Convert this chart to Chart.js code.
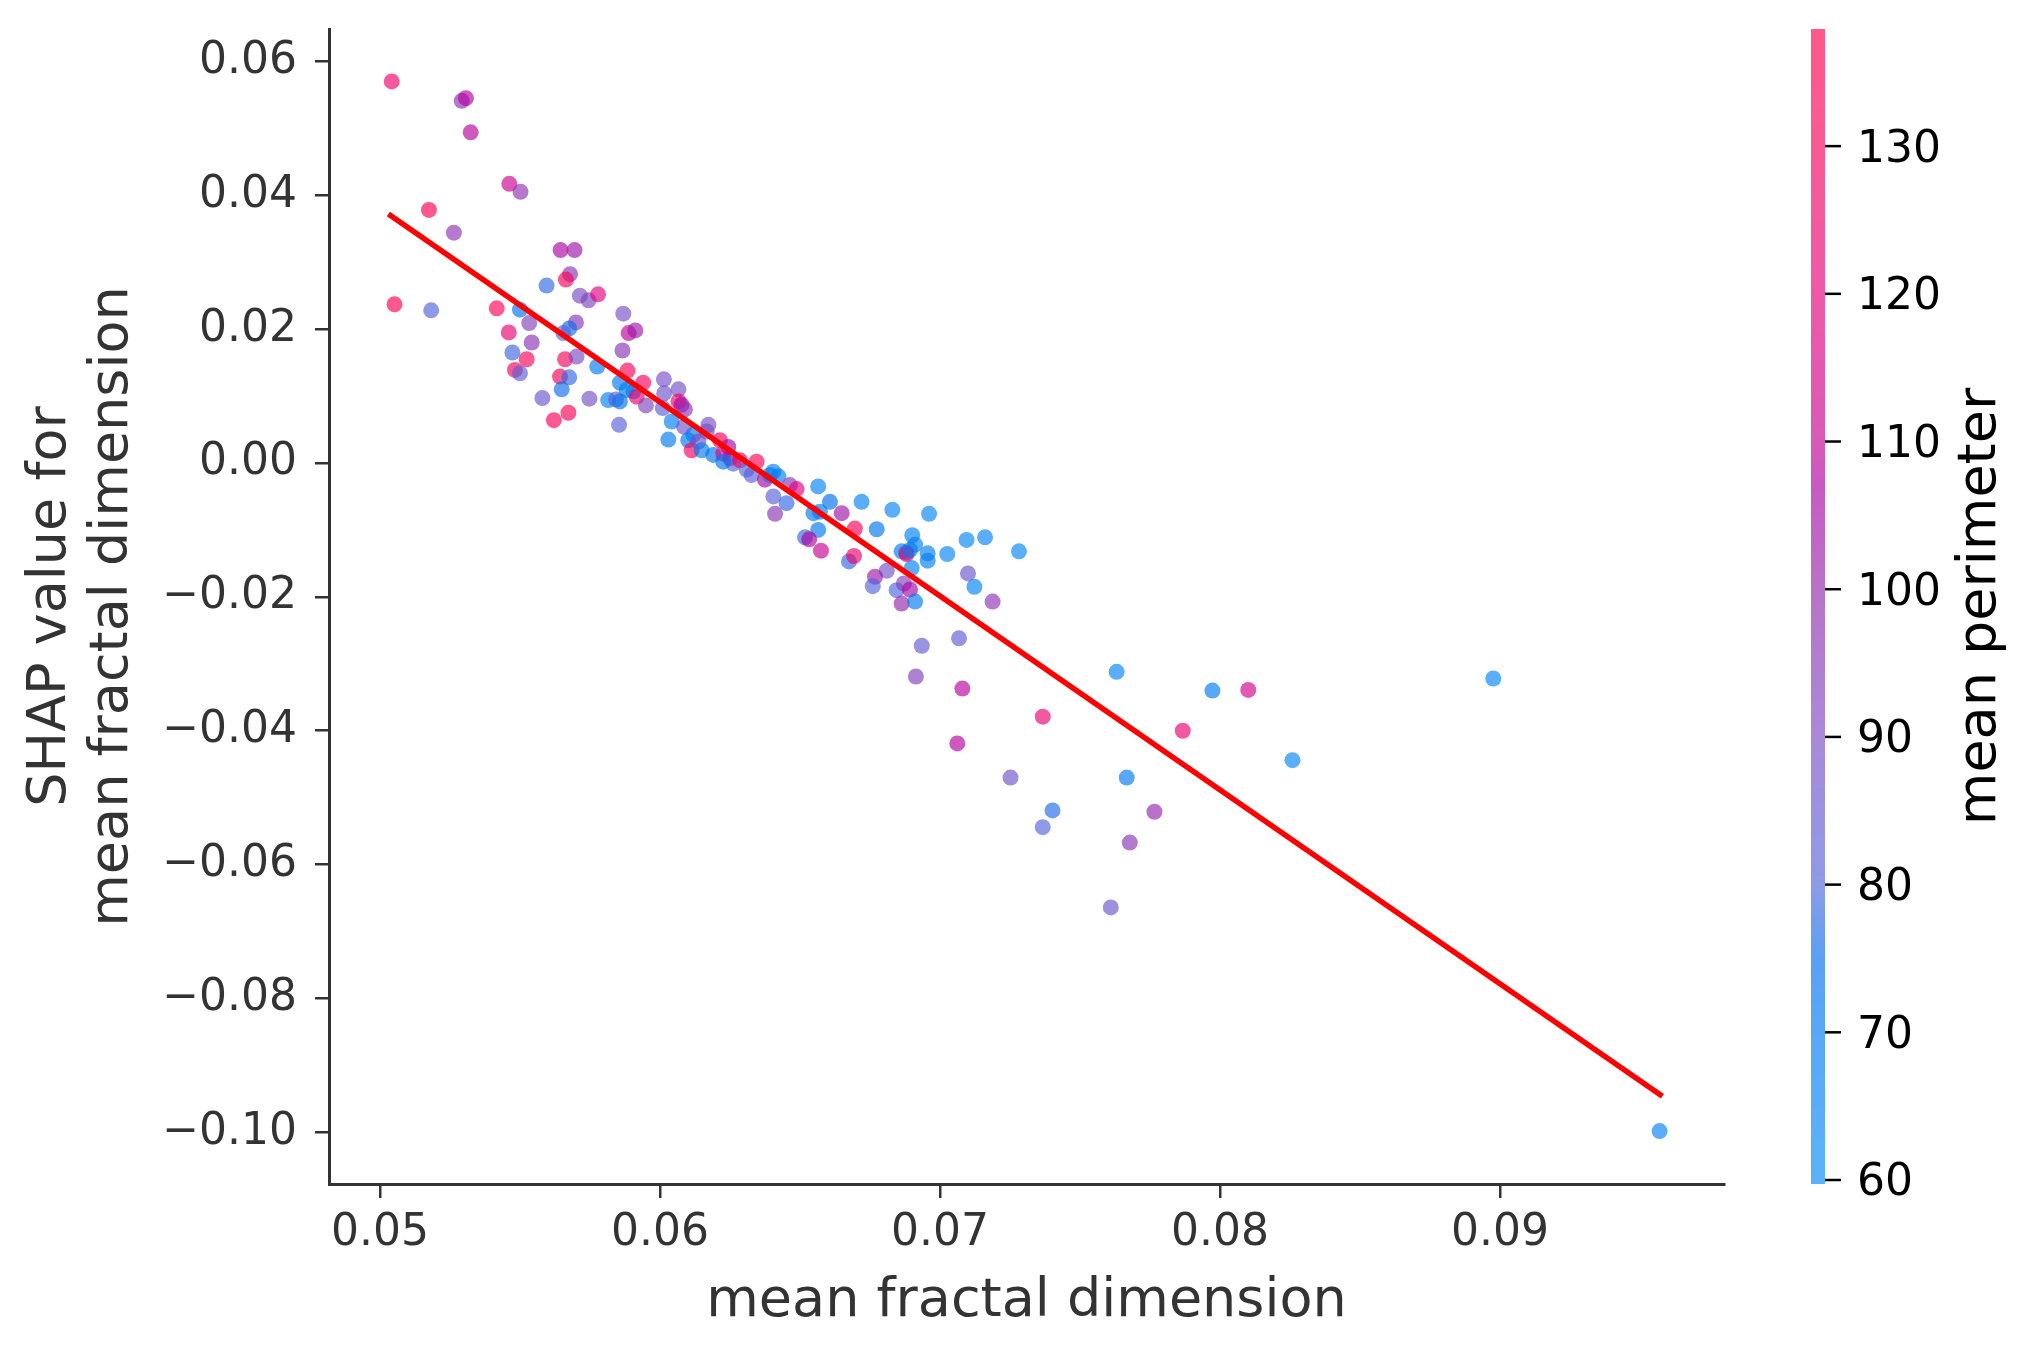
<!DOCTYPE html>
<html>
<head>
<meta charset="utf-8">
<script src="https://cdn.jsdelivr.net/npm/chart.js@4.4.1/dist/chart.umd.min.js"></script>
<style>
  html, body { margin: 0; padding: 0; background: #fff; }
  canvas { display: block; }
</style>
</head>
<body>
<canvas id="shapChart" width="2040" height="1357"></canvas>
<script>
// data
const FRACTAL_DIM = [
  0.05042, 0.05292, 0.05307, 0.05324, 0.05462, 0.05502, 0.05175, 0.05264, 0.05645, 0.05695,
  0.05679, 0.05664, 0.05595, 0.05714, 0.05745, 0.05779, 0.05052, 0.05183, 0.05417, 0.05500,
  0.05869, 0.05533, 0.05700, 0.05676, 0.05655, 0.05888, 0.05912, 0.05460, 0.05542, 0.05473,
  0.05524, 0.05482, 0.05500, 0.05661, 0.05702, 0.05866, 0.05643, 0.05676, 0.05649, 0.05776,
  0.05884, 0.05940, 0.05857, 0.05881, 0.05905, 0.05917, 0.05950, 0.05815, 0.05843, 0.05857,
  0.05580, 0.05748, 0.05621, 0.05673, 0.05854, 0.06014, 0.06066, 0.06015, 0.06010, 0.06066,
  0.06077, 0.06089, 0.06042, 0.06030, 0.06086, 0.06101, 0.06119, 0.06113, 0.06137, 0.06173,
  0.06167, 0.06149, 0.06190, 0.06214, 0.06244, 0.06226, 0.06250, 0.06262, 0.06226, 0.06286,
  0.06310, 0.06345, 0.06327, 0.06375, 0.06405, 0.06423, 0.06393, 0.06464, 0.06488, 0.06405,
  0.06452, 0.06411, 0.06565, 0.06548, 0.06571, 0.06607, 0.06649, 0.06720, 0.06696, 0.06774,
  0.06565, 0.06518, 0.06533, 0.06575, 0.06675, 0.06693, 0.06830, 0.06961, 0.06901, 0.06911,
  0.06863, 0.06879, 0.06881, 0.06893, 0.06956, 0.06956, 0.06899, 0.07026, 0.07095, 0.07161,
  0.07282, 0.07100, 0.07123, 0.07188, 0.06810, 0.06768, 0.06760, 0.06845, 0.06871, 0.06893,
  0.06863, 0.06911, 0.06935, 0.07068, 0.06914, 0.07080, 0.07367, 0.07631, 0.07973, 0.08101,
  0.07867, 0.07062, 0.08259, 0.07252, 0.07667, 0.07402, 0.07367, 0.07766, 0.07678, 0.07610,
  0.08976, 0.09570
];
const SHAP_VALUE = [
  0.0570, 0.0541, 0.0545, 0.0494, 0.0417, 0.0405, 0.0378, 0.0344, 0.0318, 0.0318,
  0.0282, 0.0274, 0.0265, 0.0250, 0.0243, 0.0252, 0.0237, 0.0228, 0.0231, 0.0229,
  0.0223, 0.0209, 0.0210, 0.0201, 0.0194, 0.0194, 0.0198, 0.0195, 0.0180, 0.0165,
  0.0155, 0.0139, 0.0134, 0.0155, 0.0159, 0.0168, 0.0129, 0.0128, 0.0110, 0.0144,
  0.0138, 0.0120, 0.0120, 0.0109, 0.0107, 0.0099, 0.0086, 0.0094, 0.0095, 0.0092,
  0.0097, 0.0096, 0.0064, 0.0075, 0.0057, 0.0125, 0.0110, 0.0104, 0.0082, 0.0092,
  0.0087, 0.0080, 0.0062, 0.0035, 0.0054, 0.0034, 0.0042, 0.0019, 0.0032, 0.0057,
  0.0047, 0.0019, 0.0012, 0.0034, 0.0024, 0.0014, 0.0007, -0.0001, 0.0002, 0.0004,
  -0.0010, 0.0002, -0.0018, -0.0025, -0.0013, -0.0020, -0.0018, -0.0033, -0.0039, -0.0050,
  -0.0060, -0.0076, -0.0035, -0.0075, -0.0073, -0.0058, -0.0075, -0.0058, -0.0098, -0.0099,
  -0.0100, -0.0111, -0.0114, -0.0131, -0.0147, -0.0139, -0.0070, -0.0076, -0.0108, -0.0122,
  -0.0132, -0.0134, -0.0136, -0.0130, -0.0135, -0.0146, -0.0157, -0.0136, -0.0115, -0.0111,
  -0.0132, -0.0165, -0.0185, -0.0207, -0.0161, -0.0170, -0.0184, -0.0190, -0.0180, -0.0189,
  -0.0210, -0.0207, -0.0273, -0.0262, -0.0319, -0.0337, -0.0379, -0.0312, -0.0340, -0.0339,
  -0.0400, -0.0419, -0.0444, -0.0470, -0.0470, -0.0519, -0.0544, -0.0521, -0.0567, -0.0664,
  -0.0322, -0.0998
];
const PERIMETER = [
  125, 98, 108, 108, 112, 98, 135, 97, 107, 104,
  96, 130, 78, 90, 92, 118, 135, 81, 133, 72,
  89, 93, 96, 76, 80, 109, 103, 122, 97, 79,
  133, 130, 82, 132, 90, 96, 130, 78, 76, 70,
  130, 128, 70, 68, 70, 125, 92, 66, 82, 72,
  86, 88, 134, 131, 82, 89, 88, 86, 82, 125,
  107, 97, 67, 70, 88, 70, 68, 128, 90, 88,
  90, 68, 72, 130, 106, 120, 105, 80, 72, 125,
  80, 131, 82, 106, 68, 68, 67, 96, 118, 82,
  78, 96, 64, 70, 69, 75, 104, 64, 130, 72,
  71, 78, 108, 110, 78, 125, 63, 63, 65, 68,
  70, 80, 125, 68, 68, 67, 66, 63, 63, 63,
  63, 86, 64, 97, 88, 103, 80, 80, 93, 106,
  100, 69, 84, 84, 94, 108, 124, 63, 70, 113,
  124, 108, 63, 87, 70, 77, 80, 100, 96, 86,
  63, 64
];

// fitted trend line end points
const TREND_X = [0.0503, 0.0958];
const TREND_Y = [0.0372, -0.0946];

// axes
const X_TICKS = [0.05, 0.06, 0.07, 0.08, 0.09];
const Y_TICKS = [-0.10, -0.08, -0.06, -0.04, -0.02, 0.00, 0.02, 0.04, 0.06];
const X_RANGE = [0.04818, 0.0980];
const Y_RANGE = [-0.10771, 0.06483];

// colour bar
const CB_TICKS = [60, 70, 80, 90, 100, 110, 120, 130];
const CB_RANGE = [59.73, 137.93];

// red-blue colour map stops (value, r, g, b)
const CMAP = [
  [59.73, 1, 137, 247],
  [70, 0, 122, 242],
  [75, 0, 110, 236],
  [80, 81, 101, 220],
  [90, 123, 75, 195],
  [100, 146, 40, 170],
  [107, 172, 0, 163],
  [110, 197, 0, 146],
  [120, 229, 0, 121],
  [130, 247, 1, 90],
  [137.93, 255, 0, 78]
];
const ALPHA = 0.65;

function colorFor(v) {
  if (v <= CMAP[0][0]) v = CMAP[0][0];
  if (v >= CMAP[CMAP.length - 1][0]) v = CMAP[CMAP.length - 1][0];
  for (let i = 0; i < CMAP.length - 1; i++) {
    let a = CMAP[i], b = CMAP[i + 1];
    if (v >= a[0] && v <= b[0]) {
      let t = (v - a[0]) / (b[0] - a[0]);
      let r = Math.round(a[1] + (b[1] - a[1]) * t);
      let g = Math.round(a[2] + (b[2] - a[2]) * t);
      let bl = Math.round(a[3] + (b[3] - a[3]) * t);
      return `rgba(${r},${g},${bl},${ALPHA})`;
    }
  }
  return `rgba(0,0,0,${ALPHA})`;
}

function fmt(v) {
  let s = Math.abs(v).toFixed(2);
  return v < -1e-9 ? '\u2212' + s : s;
}

const FONT = 'DejaVu Sans';
Chart.defaults.font.family = FONT;

const points = FRACTAL_DIM.map((x, i) => ({ x: x, y: SHAP_VALUE[i] }));
const trend = TREND_X.map((x, i) => ({ x: x, y: TREND_Y[i] }));

// colour bar drawn next to the plot
const colorBar = {
  id: 'colorBar',
  afterDraw(chart) {
    const ctx = chart.ctx;
    const top = chart.chartArea.top;
    const bottom = chart.chartArea.bottom;
    const left = 1811, width = 14;
    const span = CB_RANGE[1] - CB_RANGE[0];
    ctx.save();
    for (let y = top; y < bottom; y++) {
      let v = CB_RANGE[1] - (y + 0.5 - top) / (bottom - top) * span;
      ctx.fillStyle = colorFor(v);
      ctx.fillRect(left, y, width, 1);
    }
    ctx.strokeStyle = '#000';
    ctx.lineWidth = 2.5;
    ctx.fillStyle = '#000';
    ctx.font = `44px "${FONT}"`;
    ctx.textAlign = 'left';
    ctx.textBaseline = 'middle';
    CB_TICKS.forEach(t => {
      let y = bottom - (t - CB_RANGE[0]) / span * (bottom - top);
      ctx.beginPath();
      ctx.moveTo(left + width, y);
      ctx.lineTo(left + width + 16, y);
      ctx.stroke();
      ctx.fillText(String(t), 1857, y + 4);
    });
    ctx.translate(1981, (top + bottom) / 2);
    ctx.rotate(-Math.PI / 2);
    ctx.textAlign = 'center';
    ctx.font = `54px "${FONT}"`;
    ctx.fillText('mean perimeter', 0, 0);
    ctx.restore();
  }
};

const ctx = document.getElementById('shapChart').getContext('2d');

new Chart(ctx, {
  type: 'scatter',
  data: {
    datasets: [
      {
        type: 'line',
        data: trend,
        borderColor: '#ff0000',
        borderWidth: 5.5,
        pointRadius: 0,
        fill: false,
        order: 0
      },
      {
        data: points,
        pointBackgroundColor: PERIMETER.map(colorFor),
        pointBorderWidth: 0,
        pointRadius: 8,
        pointHoverRadius: 8,
        order: 1
      }
    ]
  },
  options: {
    responsive: false,
    animation: false,
    devicePixelRatio: 1,
    layout: { padding: { top: 29, right: 316, bottom: 0, left: 0 } },
    plugins: {
      legend: { display: false },
      tooltip: { enabled: false }
    },
    scales: {
      x: {
        type: 'linear',
        position: 'bottom',
        min: X_RANGE[0],
        max: X_RANGE[1],
        afterBuildTicks: s => { s.ticks = X_TICKS.map(v => ({ value: v })); },
        afterFit: s => { s.height = 173; s.paddingLeft = 0; s.paddingRight = 0; },
        ticks: {
          callback: v => fmt(v),
          font: { size: 44 },
          color: '#333333',
          padding: 9,
          maxRotation: 0,
          autoSkip: false
        },
        grid: { drawOnChartArea: false, drawTicks: true, tickLength: 14, color: '#333333', lineWidth: 2.5 },
        border: { color: '#333333', width: 3 },
        title: {
          display: true,
          text: 'mean fractal dimension',
          font: { size: 54, lineHeight: 1.15 },
          color: '#333333',
          padding: { top: 0, bottom: 24 }
        }
      },
      y: {
        type: 'linear',
        min: Y_RANGE[0],
        max: Y_RANGE[1],
        afterBuildTicks: s => { s.ticks = Y_TICKS.map(v => ({ value: v })); },
        afterFit: s => { s.width = 329; s.paddingTop = 0; s.paddingBottom = 0; },
        ticks: {
          callback: v => fmt(v),
          font: { size: 44 },
          color: '#333333',
          padding: 18,
          autoSkip: false
        },
        grid: { drawOnChartArea: false, drawTicks: true, tickLength: 14, color: '#333333', lineWidth: 2.5 },
        border: { color: '#333333', width: 3 },
        title: {
          display: true,
          text: ['SHAP value for', 'mean fractal dimension'],
          font: { size: 54, lineHeight: 1.15 },
          color: '#333333',
          padding: { top: 20, bottom: 0 }
        }
      }
    }
  },
  plugins: [colorBar]
});
</script>
</body>
</html>
